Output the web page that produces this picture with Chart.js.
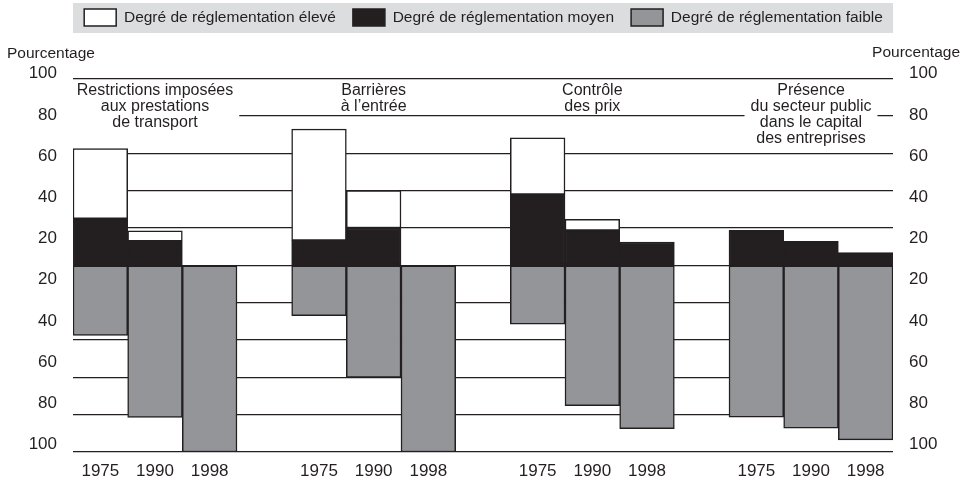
<!DOCTYPE html>
<html><head><meta charset="utf-8">
<script src="https://cdn.jsdelivr.net/npm/chart.js@4.4.1/dist/chart.umd.min.js"></script>
<style>html,body{margin:0;padding:0;background:#fff;}canvas{display:block;}</style>
</head><body>
<canvas id="c" width="972" height="481"></canvas>
<script>
// ---- data ----
const categories = ['1975','1990','1998','', '1975','1990','1998','', '1975','1990','1998','', '1975','1990','1998'];
const groupTitles = [
  ['Restrictions imposées','aux prestations','de transport'],
  ['Barrières','à l\u2019entrée'],
  ['Contrôle','des prix'],
  ['Présence','du secteur public','dans le capital','des entreprises']
];
const seriesNames = ['Degré de réglementation élevé','Degré de réglementation moyen','Degré de réglementation faible'];
const eleve  = [37.5, 5.5, 0, null, 59.6, 20, 0, null, 30.3, 6, 0, null, 0, 0, 0];
const moyen  = [25, 13, 0, null, 13.4, 20, 0, null, 38, 18.7, 12.5, null, 18.7, 12.8, 6.8];
const faible = [37.5, 81.5, 100, null, 27, 60, 100, null, 31.5, 75.2, 87.5, null, 81.3, 87.2, 93.5];
const yGridValues = [-100,-80,-60,-40,-20,0,20,40,60,80,100];
const yTickLabels = ['100','80','60','40','20','20','40','60','80','100'];
const axisTitle = 'Pourcentage';

// ---- styles ----
const INK = '#231f20';
const FILL_WHITE = '#ffffff', FILL_BLACK = '#231f20', FILL_GRAY = '#939598';
const SANS = '"Liberation Sans", Arial, Helvetica, sans-serif';
const titlePad = {top: 8, bottom: 11};

const decor = {
  id: 'decor',
  beforeDraw(chart) {
    const {ctx, legend, chartArea} = chart;
    const hb = legend.legendHitBoxes;
    if (!hb || !hb.length) return;
    const top = Math.min(...hb.map(b => b.top));
    const bottom = Math.max(...hb.map(b => b.top + b.height));
    ctx.save();
    ctx.fillStyle = '#dcdddf';
    ctx.fillRect(chartArea.left, top - 6, chartArea.right - chartArea.left, bottom - top + 13);
    ctx.restore();
  },
  afterDatasetsDraw(chart) {
    const {ctx, chartArea} = chart;
    const xs = chart.scales.x;
    ctx.save();
    ctx.font = '16px ' + SANS;
    const lh = 16;
    const y0 = chartArea.top + 16.7;
    groupTitles.forEach((lines, g) => {
      const cx = xs.getPixelForValue(g * 4 + 1);
      const w = Math.max(...lines.map(l => ctx.measureText(l).width));
      const left = Math.max(chartArea.left, cx - w / 2 - 6);
      ctx.fillStyle = '#ffffff';
      ctx.fillRect(left, y0 - 8, (cx + w / 2 + 6) - left, (lines.length - 1) * lh + 16);
      ctx.fillStyle = INK;
      ctx.textAlign = 'center';
      ctx.textBaseline = 'middle';
      lines.forEach((l, i) => ctx.fillText(l, cx, y0 + i * lh));
    });
    ctx.restore();
  },
  afterDraw(chart) {
    const {ctx} = chart;
    const tb = chart.titleBlock;
    ctx.save();
    ctx.font = '15.5px ' + SANS;
    ctx.fillStyle = INK;
    ctx.textAlign = 'right';
    ctx.textBaseline = 'middle';
    ctx.fillText(axisTitle, chart.width - chart.options.layout.padding.right, tb.top + titlePad.top + 9);
    ctx.restore();
  }
};

const common = {borderColor: INK, borderWidth: 1.5, borderSkipped: false, barPercentage: 1, categoryPercentage: 1};

new Chart(document.getElementById('c'), {
  type: 'bar',
  data: {
    labels: categories,
    datasets: [
      Object.assign({label: seriesNames[0], data: eleve, backgroundColor: FILL_WHITE, order: 1}, common),
      Object.assign({label: seriesNames[1], data: moyen, backgroundColor: FILL_BLACK, order: 0}, common),
      Object.assign({label: seriesNames[2], data: faible.map(v => v == null ? null : -v), backgroundColor: FILL_GRAY, order: 2}, common)
    ]
  },
  options: {
    responsive: false,
    animation: false,
    devicePixelRatio: 1,
    layout: {padding: {top: -8, left: 7, right: 12, bottom: 0}},
    plugins: {
      tooltip: {enabled: false},
      legend: {
        position: 'top',
        labels: {
          boxWidth: 32, boxHeight: 17, padding: 17,
          font: {size: 15.5, family: SANS}, color: INK,
          sort: (a, b) => a.datasetIndex - b.datasetIndex
        }
      },
      title: {
        display: true, text: axisTitle, align: 'start', weight: 500,
        font: {size: 15.5, family: SANS, weight: 'normal'}, color: INK,
        padding: titlePad
      }
    },
    scales: {
      x: {
        stacked: true, offset: true,
        grid: {display: false, drawTicks: false}, border: {display: false},
        ticks: {font: {size: 17, family: SANS}, color: INK, padding: 9, maxRotation: 0, autoSkip: false},
        afterFit: s => { s.height = 29; }
      },
      y: {
        stacked: true, min: -100, max: 102.7, position: 'left',
        afterBuildTicks: s => { s.ticks = yGridValues.map(v => ({value: v})); },
        grid: {color: INK, lineWidth: 1.2, drawTicks: false}, border: {display: false},
        ticks: {display: false},
        afterFit: s => { s.width = 0; }
      },
      yl: {
        position: 'left', min: 0, max: 9.18, reverse: true,
        grid: {display: false, drawTicks: false}, border: {display: false},
        afterBuildTicks: s => { s.ticks = yTickLabels.map((_, i) => ({value: i})); },
        ticks: {callback: v => yTickLabels[v], font: {size: 17, family: SANS}, color: INK, padding: 16},
        afterFit: s => { s.width = 66; }
      },
      yr: {
        position: 'right', min: 0, max: 9.18, reverse: true,
        grid: {display: false, drawTicks: false}, border: {display: false},
        afterBuildTicks: s => { s.ticks = yTickLabels.map((_, i) => ({value: i})); },
        ticks: {callback: v => yTickLabels[v], font: {size: 17, family: SANS}, color: INK, padding: 16},
        afterFit: s => { s.width = 67; }
      }
    }
  },
  plugins: [decor]
});
</script>
</body></html>
